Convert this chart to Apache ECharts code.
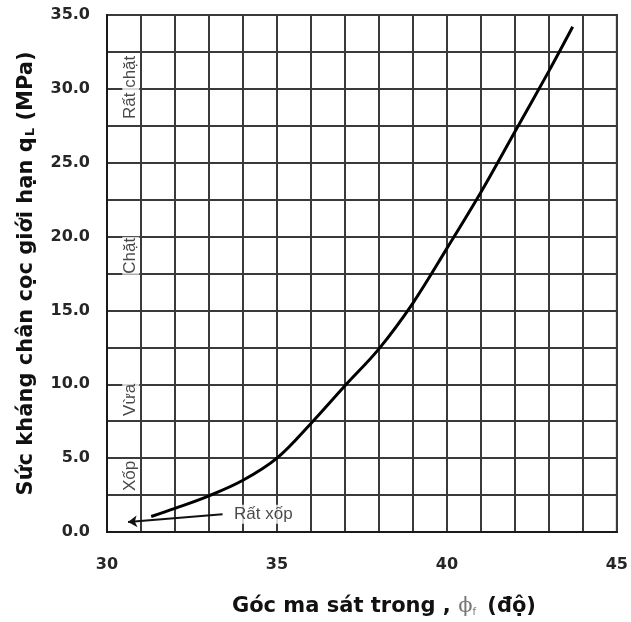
<!DOCTYPE html>
<html>
<head>
<meta charset="utf-8">
<script src="https://cdn.jsdelivr.net/npm/echarts@6/dist/echarts.min.js"></script>
<style>
  html, body { margin: 0; padding: 0; background: #fff; }
  #chart { width: 631px; height: 622px; }
</style>
</head>
<body>
<div id="chart"></div>
<script>
// Ultimate pile tip resistance q_L versus internal friction angle phi_f
const phiDeg = [31.3, 32, 33, 34, 35, 36, 37, 38, 39, 40, 41, 42, 43, 43.7];
const qLimit = [1.05, 1.6, 2.45, 3.5, 5.0, 7.35, 9.9, 12.4, 15.5, 19.2, 23.0, 27.1, 31.2, 34.2];

// Axis tick labels (gridlines every 1 degree / 2.5 MPa, labels every 5)
const xTickLabels = ['30', '35', '40', '45'];
const yTickLabels = ['0.0', '5.0', '10.0', '15.0', '20.0', '25.0', '30.0', '35.0'];

// Soil density classes written in the first column
const densityNames = ['Rất chặt', 'Chặt', 'Vừa', 'Xốp'];
const densityPhi = [30.7, 30.7, 30.7, 30.7];
const densityQ = [30.1, 18.7, 8.95, 3.8];

// "Very loose" callout: text anchor and arrow from/to
const calloutText = 'Rất xốp';
const calloutAt = [34.6, 1.2];
const arrowFrom = [33.4, 1.2];
const arrowTo = [30.62, 0.67];

const boldFont = 'DejaVu Sans';
const chart = echarts.init(document.getElementById('chart'), null, { renderer: 'canvas' });

chart.setOption({
  animation: false,
  backgroundColor: '#ffffff',
  grid: {
    left: 107, top: 15, right: 13, bottom: 88,
    show: true, borderColor: '#1a1a1a', borderWidth: 2, backgroundColor: '#fff'
  },
  xAxis: {
    type: 'value', min: 30, max: 45, interval: 1,
    axisLine: { show: true, lineStyle: { color: '#1a1a1a', width: 2 } },
    axisTick: { show: false },
    splitLine: { show: true, lineStyle: { color: '#3a3a3a', width: 2 } },
    axisLabel: {
      margin: 25, color: '#262626', fontFamily: boldFont, fontWeight: 'bold', fontSize: 16,
      formatter: v => xTickLabels.includes(String(v)) ? String(v) : ''
    },
    name: 'Góc ma sát trong , {phi|ϕ}{sub|f} (độ)',
    nameLocation: 'middle', nameGap: 64,
    nameTextStyle: {
      color: '#111', fontFamily: boldFont, fontWeight: 'bold', fontSize: 21,
      padding: [0, 0, 0, 44],
      rich: {
        phi: { fontFamily: 'DejaVu Serif', fontWeight: 'normal', fontSize: 21, color: '#777' },
        sub: { fontFamily: 'DejaVu Sans', fontWeight: 'normal', fontSize: 10, color: '#777', verticalAlign: 'bottom', padding: [0, 4, 0, 0] }
      }
    }
  },
  yAxis: {
    type: 'value', min: 0, max: 35, interval: 2.5,
    axisLine: { show: true, lineStyle: { color: '#1a1a1a', width: 2 } },
    axisTick: { show: false },
    splitLine: { show: true, lineStyle: { color: '#3a3a3a', width: 2 } },
    axisLabel: {
      margin: 17, color: '#262626', fontFamily: boldFont, fontWeight: 'bold', fontSize: 16,
      formatter: v => { const s = v.toFixed(1); return yTickLabels.includes(s) ? s : ''; }
    },
    name: 'Sức kháng chân cọc giới hạn q{sub|L} (MPa)',
    nameLocation: 'middle', nameGap: 70, nameRotate: 90,
    nameTextStyle: {
      color: '#111', fontFamily: boldFont, fontWeight: 'bold', fontSize: 21,
      rich: {
        sub: { fontFamily: boldFont, fontWeight: 'bold', fontSize: 13, color: '#111', verticalAlign: 'bottom', padding: [0, 0, 0, 1] }
      }
    }
  },
  series: [
    {
      name: 'qL',
      type: 'line',
      data: phiDeg.map((p, i) => [p, qLimit[i]]),
      smooth: 0.35,
      showSymbol: false,
      lineStyle: { color: '#000', width: 3 },
      z: 5
    },
    {
      name: 'arrow',
      type: 'line',
      data: [],
      markLine: {
        silent: true,
        symbol: ['none', 'arrow'],
        symbolSize: 9,
        lineStyle: { color: '#111', width: 2, type: 'solid' },
        label: { show: false },
        data: [[{ coord: arrowFrom }, { coord: arrowTo }]]
      },
      z: 6
    },
    {
      name: 'callout',
      type: 'scatter',
      symbolSize: 0,
      data: [{ value: calloutAt, name: calloutText }],
      label: {
        show: true, position: 'inside', formatter: '{b}',
        fontFamily: 'Liberation Sans', fontSize: 17, color: '#1a1a1a',
        backgroundColor: '#fff', padding: [1, 2]
      },
      z: 7
    },
    {
      name: 'density',
      type: 'scatter',
      symbolSize: 0,
      data: densityNames.map((n, i) => ({ value: [densityPhi[i], densityQ[i]], name: n })),
      label: {
        show: true, position: 'inside', rotate: 90, formatter: '{b}',
        fontFamily: 'Liberation Sans', fontSize: 17, color: '#1a1a1a',
        backgroundColor: '#fff', padding: [0, 1]
      },
      z: 7
    }
  ]
});
</script>
</body>
</html>
